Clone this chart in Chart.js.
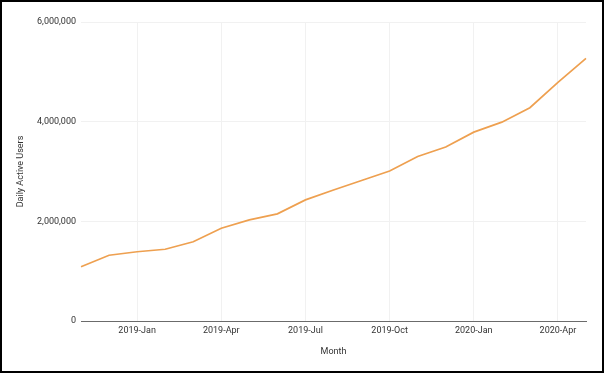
<!DOCTYPE html>
<html>
<head>
<meta charset="utf-8">
<script src="https://cdn.jsdelivr.net/npm/chart.js@4/dist/chart.umd.min.js"></script>
<style>
  html, body { margin: 0; padding: 0; background: #fff; }
  .frame {
    position: absolute; left: 0; top: 0;
    width: 604px; height: 373px;
    box-sizing: border-box;
    border: 2px solid #000;
  }
  .frame canvas { display: block; }
</style>
</head>
<body>
<div class="frame"><canvas id="dauChart" width="600" height="369"></canvas></div>
<script>
const months = [
  '2018-Nov', '2018-Dec',
  '2019-Jan', '2019-Feb', '2019-Mar', '2019-Apr', '2019-May', '2019-Jun',
  '2019-Jul', '2019-Aug', '2019-Sep', '2019-Oct', '2019-Nov', '2019-Dec',
  '2020-Jan', '2020-Feb', '2020-Mar', '2020-Apr', '2020-May'
];
const dailyActiveUsers = [
  1090000, 1320000,
  1390000, 1440000, 1590000, 1860000, 2030000, 2150000,
  2430000, 2630000, 2820000, 3010000, 3300000, 3490000,
  3790000, 3990000, 4280000, 4790000, 5270000
];
const tickMonths = ['2019-Jan', '2019-Apr', '2019-Jul', '2019-Oct', '2020-Jan', '2020-Apr'];
const yTicks = [0, 2000000, 4000000, 6000000];

const isTick = i => tickMonths.includes(months[i]);
const font = { family: 'Roboto, "Liberation Sans", Arial, sans-serif', size: 9 };

const ctx = document.getElementById('dauChart').getContext('2d');
new Chart(ctx, {
  type: 'line',
  data: {
    labels: months,
    datasets: [{
      label: 'Daily Active Users',
      data: dailyActiveUsers,
      borderColor: '#eea050',
      borderWidth: 1.7,
      pointRadius: 0,
      tension: 0,
      fill: false
    }]
  },
  options: {
    responsive: false,
    animation: false,
    layout: {
      padding: { left: 9, top: 20, right: 16, bottom: 10 }
    },
    plugins: {
      legend: { display: false },
      tooltip: { enabled: false }
    },
    scales: {
      x: {
        type: 'category',
        offset: false,
        afterFit: s => { s.height = 40; },
        grid: {
          drawTicks: false,
          color: c => (c.index !== undefined && isTick(c.index)) ? '#f1f1f1' : 'rgba(0,0,0,0)'
        },
        border: { display: true, color: '#6b6b6b', width: 1 },
        ticks: {
          autoSkip: false,
          maxRotation: 0,
          padding: 4,
          color: '#333',
          font: font,
          callback: (v, i) => isTick(i) ? months[i] : ''
        },
        title: {
          display: true,
          text: 'Month',
          color: '#333',
          font: font,
          padding: 4
        }
      },
      y: {
        min: 0,
        max: 6000000,
        afterFit: s => { s.width = 70; },
        afterBuildTicks: s => { s.ticks = yTicks.map(v => ({ value: v })); },
        grid: { drawTicks: false, color: '#f1f1f1' },
        border: { display: false },
        ticks: {
          padding: 5,
          color: '#333',
          font: font,
          callback: v => v.toLocaleString('en-US')
        },
        title: {
          display: true,
          text: 'Daily Active Users',
          color: '#333',
          font: font,
          padding: 4
        }
      }
    }
  }
});
</script>
</body>
</html>
